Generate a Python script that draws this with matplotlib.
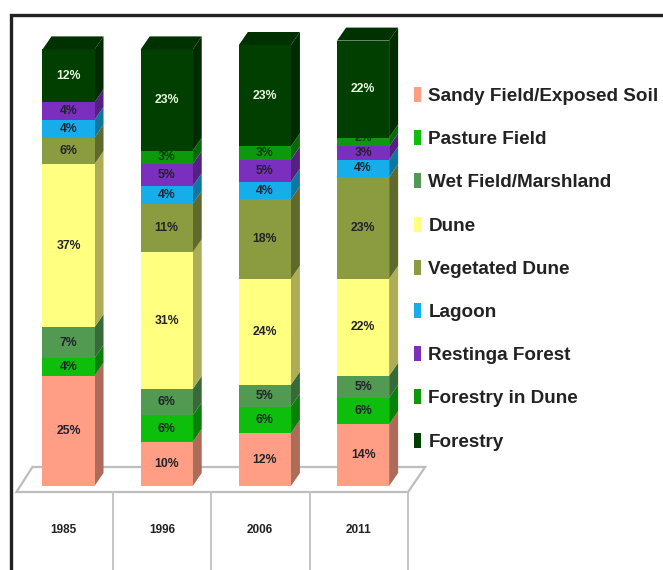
#!/usr/bin/env python

import matplotlib
matplotlib.use("Agg")
import matplotlib.pyplot as plt
from matplotlib.patches import Patch, Polygon
from matplotlib.colors import to_rgb

years = ["1985", "1996", "2006", "2011"]
classes = ["Sandy Field/Exposed Soil", "Pasture Field", "Wet Field/Marshland", "Dune",
           "Vegetated Dune", "Lagoon", "Restinga Forest", "Forestry in Dune", "Forestry"]
colors = ["#FF9E85", "#0DBE0D", "#529A52", "#FFFF80", "#8B9B3F",
          "#15AEEA", "#7B2FBE", "#0C9A0C", "#003F00"]

sandy = [25, 10, 12, 14]
pasture = [4, 6, 6, 6]
wet = [7, 6, 5, 5]
dune = [37, 31, 24, 22]
veg_dune = [6, 11, 18, 23]
lagoon = [4, 4, 4, 4]
restinga = [4, 5, 5, 3]
forestry_dune = [0, 3, 3, 2]
forestry = [12, 23, 23, 22]
series = [sandy, pasture, wet, dune, veg_dune, lagoon, restinga, forestry_dune, forestry]

# scale of the picture
px_x = 98.2
px_y = 4.41
width = 0.53
dx = 9 / px_x
dy = 13 / px_y


def shade(c, k):
    return tuple(v * k for v in to_rgb(c))


fig = plt.figure(figsize=(6.63, 5.70), dpi=100)
ax = fig.add_axes([0, 0, 1, 1])
ax.set_xlim(-68.5 / px_x, (663 - 68.5) / px_x)
ax.set_ylim(-(570 - 486) / px_y, 486 / px_y)
ax.axis("off")

# floor of the 3d chart
fl = -6 / px_y
floor_x0 = -width / 2 - 26 / px_x
floor_x1 = 3 + width / 2 + 19 / px_x
ax.add_patch(Polygon([(floor_x0, fl), (floor_x1, fl), (floor_x1 + 17 / px_x, fl + 25 / px_y),
                      (floor_x0 + 16 / px_x, fl + 25 / px_y)],
                     fc="white", ec="#BDBDBD", lw=1.6, zorder=1))
for i in range(4):
    ax.plot([i + 0.455] * 2, [fl, -100], color="#C4C4C4", lw=1.4, zorder=1)
    ax.text(i - 0.05, -44 / px_y, years[i], ha="center", va="center", fontsize=8.5,
            family="Liberation Sans", color="#222222", fontweight="bold")

bottom = [0, 0, 0, 0]
for s, vals in enumerate(series):
    c = colors[s]
    ax.bar(range(4), vals, width, bottom=bottom, color=c, zorder=3, linewidth=0)
    for i, v in enumerate(vals):
        if v == 0:
            continue
        r = i + width / 2
        y0, y1 = bottom[i], bottom[i] + v
        ax.add_patch(Polygon([(r, y0), (r + dx, y0 + dy), (r + dx, y1 + dy), (r, y1)],
                             fc=shade(c, 0.68), ec="none", zorder=2.5))
        txt = "#E8F5E0" if s == 8 else ("#0A3A10" if s == 7 else "#22222A")
        # the thin 2% band has its label pushed up, as in the original
        nudge = 1.0 if v <= 2 else 0
        ax.text(i, y0 + v / 2 + nudge, f"{v}%", ha="center", va="center", fontsize=8.8, color=txt,
                family="Liberation Sans", fontweight="bold", zorder=4)
    bottom = [b + v for b, v in zip(bottom, vals)]

# top faces
for i in range(4):
    l = i - width / 2
    r = i + width / 2
    t = bottom[i]
    ax.add_patch(Polygon([(l, t), (r, t), (r + dx, t + dy), (l + dx, t + dy)],
                         fc=shade(colors[8], 0.78), ec="none", zorder=3))

# outer frame
ax.plot([11 / 663, 11 / 663, 1], [0, 555 / 570, 555 / 570], transform=ax.transAxes,
        color="#222222", lw=2.4, zorder=5, solid_joinstyle="miter")

handles = [Patch(fc=c, ec="none") for c in colors]
ax.legend(handles, classes, loc="upper left", bbox_to_anchor=(414 / 663, 1 - 87 / 570),
          frameon=False, handlelength=0.38, handleheight=0.85, handletextpad=0.38,
          labelspacing=1.33, borderpad=0, borderaxespad=0,
          prop={"family": "Liberation Sans", "weight": "bold", "size": 13.6}, labelcolor="#222222")

fig.savefig("out.png", dpi=100)
